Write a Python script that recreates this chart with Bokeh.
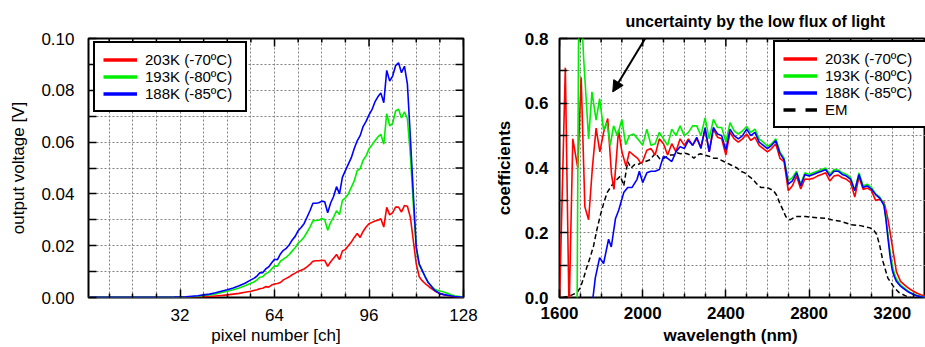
import math
from bokeh.plotting import figure
from bokeh.layouts import row
from bokeh.models import (Range1d, FixedTicker, Legend, LegendItem, Title,
                          Arrow, NormalHead, PrintfTickFormatter)
from bokeh.core.properties import value
from bokeh.embed import file_html
from bokeh.resources import INLINE

# ---------------- left panel data ----------------
channels = [1, 8, 16, 24, 30, 34, 36, 38, 40, 42, 44, 46, 48, 50, 52, 54, 56] + list(range(57, 129))

volt_203K = [0.0001, 0.0001, 0.0001, 0.0001, 0.0001, 0.0001, 0.0002, 0.0002, 0.0003, 0.0004,
             0.0006, 0.0008, 0.001, 0.0013, 0.0016, 0.002, 0.0024,
             0.0027, 0.003, 0.0034, 0.0036, 0.0042, 0.004, 0.0048, 0.0052, 0.0054, 0.0058,
             0.0068, 0.0074, 0.008, 0.0088, 0.0094, 0.0101, 0.0105, 0.011, 0.0118, 0.0128,
             0.014, 0.0142, 0.0142, 0.0144, 0.0143, 0.012, 0.0138, 0.0152, 0.0166, 0.0146,
             0.018, 0.0185, 0.02, 0.0214, 0.0232, 0.0247, 0.0232, 0.0255, 0.0272, 0.0285,
             0.029, 0.0295, 0.0298, 0.0304, 0.0272, 0.0348, 0.0319, 0.0328, 0.0349, 0.0349,
             0.033, 0.0355, 0.0352, 0.031, 0.022, 0.013, 0.008, 0.0065, 0.0054, 0.0045,
             0.0035, 0.0028, 0.002, 0.0015, 0.0012, 0.0009, 0.0007, 0.0005, 0.0003, 0.0002,
             0.0001, 0.0]

volt_193K = [0.0001, 0.0001, 0.0001, 0.0001, 0.0001, 0.0002, 0.0003, 0.0005, 0.0008, 0.001,
             0.0014, 0.0019, 0.0024, 0.003, 0.0037, 0.0045, 0.0055,
             0.006, 0.0067, 0.0078, 0.008, 0.0092, 0.0097, 0.011, 0.0122, 0.0121, 0.014,
             0.0148, 0.0156, 0.0166, 0.018, 0.0192, 0.021, 0.022, 0.0233, 0.0252, 0.0272,
             0.0296, 0.0297, 0.0298, 0.0305, 0.030, 0.026, 0.029, 0.031, 0.0335, 0.032,
             0.0375, 0.0385, 0.040, 0.0425, 0.045, 0.049, 0.0497, 0.053, 0.0547, 0.0574,
             0.0589, 0.0605, 0.062, 0.063, 0.0592, 0.071, 0.0663, 0.0672, 0.072, 0.0727,
             0.0693, 0.0717, 0.069, 0.055, 0.036, 0.019, 0.0125, 0.0105, 0.0082, 0.006,
             0.0045, 0.0034, 0.0028, 0.0025, 0.0022, 0.0018, 0.0014, 0.001, 0.0007, 0.0005,
             0.0003, 0.0002]

volt_188K = [0.0001, 0.0001, 0.0001, 0.0001, 0.0002, 0.0003, 0.0005, 0.0007, 0.001, 0.0013,
             0.0018, 0.0024, 0.003, 0.0037, 0.0045, 0.0055, 0.0068,
             0.0074, 0.0082, 0.0095, 0.0096, 0.011, 0.0118, 0.0133, 0.0148, 0.0146, 0.0168,
             0.0182, 0.019, 0.0204, 0.0222, 0.0236, 0.0258, 0.027, 0.0285, 0.031, 0.0335,
             0.0364, 0.0364, 0.0366, 0.0372, 0.037, 0.0327, 0.0365, 0.039, 0.0428, 0.040,
             0.0465, 0.049, 0.0515, 0.054, 0.0575, 0.0605, 0.0625, 0.066, 0.068, 0.0705,
             0.0725, 0.0755, 0.0775, 0.079, 0.0752, 0.0877, 0.0836, 0.0855, 0.0895, 0.0906,
             0.0868, 0.0893, 0.0824, 0.062, 0.040, 0.0195, 0.013, 0.0105, 0.008, 0.0058,
             0.0045, 0.003, 0.0022, 0.0015, 0.0012, 0.001, 0.0008, 0.0006, 0.0004, 0.0003,
             0.0002, 0.0001]

left_x_ticks = [32, 64, 96, 128]
left_x_minor = [8, 16, 24, 40, 48, 56, 72, 80, 88, 104, 112, 120]
left_x_grid = [8, 16, 24, 32, 40, 48, 56, 64, 72, 80, 88, 96, 104, 112, 120]
left_y_ticks = [0.0, 0.02, 0.04, 0.06, 0.08, 0.10]
left_y_minor = [0.01, 0.03, 0.05, 0.07, 0.09]
left_y_grid = [0.01, 0.02, 0.03, 0.04, 0.05, 0.06, 0.07, 0.08, 0.09]

# ---------------- right panel data ----------------
wl_mid = [2000, 2020, 2040, 2060, 2080, 2100, 2120, 2140, 2160, 2180,
          2200, 2220, 2240, 2260, 2280, 2300, 2320, 2340, 2360, 2380,
          2400, 2420, 2440, 2460, 2480, 2500, 2520, 2540, 2560, 2580,
          2600, 2620, 2640, 2660, 2680, 2700, 2720, 2740, 2760, 2780,
          2800, 2820, 2840, 2860, 2880, 2900, 2920, 2940, 2960, 2980,
          3000, 3020, 3040, 3060, 3080, 3100, 3120, 3140, 3160, 3170,
          3180, 3190, 3200, 3210, 3220, 3240, 3260, 3280, 3300, 3320,
          3340, 3360]

coef_193K_mid = [0.47, 0.52, 0.47, 0.475, 0.51, 0.49, 0.47, 0.52, 0.50, 0.53,
                 0.50, 0.51, 0.53, 0.53, 0.50, 0.555, 0.49, 0.55, 0.525, 0.525,
                 0.48, 0.54, 0.515, 0.505, 0.515, 0.528, 0.51, 0.52, 0.49, 0.48,
                 0.467, 0.475, 0.49, 0.45, 0.43, 0.36, 0.37, 0.39, 0.35, 0.385,
                 0.38, 0.385, 0.39, 0.395, 0.40, 0.38, 0.395, 0.394, 0.385, 0.38,
                 0.37, 0.33, 0.385, 0.345, 0.35, 0.34, 0.32, 0.31, 0.29, 0.245,
                 0.19, 0.14, 0.10, 0.075, 0.057, 0.038, 0.028, 0.018, 0.012, 0.006,
                 0.003, 0.001]

coef_188K_mid = [0.355, 0.385, 0.39, 0.39, 0.395, 0.436, 0.43, 0.42, 0.45, 0.466,
                 0.46, 0.485, 0.47, 0.495, 0.46, 0.525, 0.45, 0.525, 0.505, 0.50,
                 0.455, 0.52, 0.50, 0.49, 0.50, 0.52, 0.50, 0.51, 0.48, 0.47,
                 0.46, 0.47, 0.485, 0.445, 0.425, 0.35, 0.36, 0.385, 0.345, 0.38,
                 0.375, 0.38, 0.385, 0.39, 0.395, 0.375, 0.39, 0.39, 0.38, 0.375,
                 0.365, 0.33, 0.38, 0.34, 0.345, 0.335, 0.318, 0.307, 0.285, 0.24,
                 0.18, 0.125, 0.085, 0.065, 0.05, 0.035, 0.025, 0.016, 0.01, 0.005,
                 0.002, 0.0]

coef_203K_mid = [0.42, 0.455, 0.46, 0.44, 0.49, 0.475, 0.44, 0.475, 0.45, 0.49,
                 0.47, 0.49, 0.47, 0.49, 0.465, 0.52, 0.45, 0.52, 0.495, 0.49,
                 0.44, 0.51, 0.49, 0.48, 0.49, 0.505, 0.485, 0.495, 0.47, 0.46,
                 0.45, 0.46, 0.475, 0.43, 0.42, 0.33, 0.345, 0.375, 0.335, 0.366,
                 0.365, 0.368, 0.375, 0.38, 0.385, 0.36, 0.375, 0.378, 0.37, 0.365,
                 0.355, 0.31, 0.373, 0.334, 0.338, 0.33, 0.30, 0.303, 0.295, 0.27,
                 0.24, 0.20, 0.16, 0.12, 0.08, 0.05, 0.038, 0.028, 0.02, 0.013,
                 0.008, 0.004]

wl_203K_low = [1600, 1628, 1646, 1664, 1688, 1704, 1722, 1740, 1758, 1776, 1794, 1812,
               1832, 1850, 1862, 1884, 1900, 1920, 1936, 1956, 1976, 1990]
coef_203K_low = [-0.02, 0.71, -0.05, 0.49, 0.40, 0.68, 0.28, 0.24, 0.40, 0.523, 0.45, 0.51,
                 0.553, 0.38, 0.334, 0.518, 0.45, 0.405, 0.451, 0.44, 0.43, 0.415]

wl_193K_low = [1600, 1684, 1692, 1708, 1716, 1740, 1756, 1776, 1793, 1812, 1828, 1844,
               1860, 1878, 1900, 1918, 1936, 1956, 1976]
coef_193K_low = [-0.1, -0.1, 0.85, 0.85, 0.74, 0.49, 0.635, 0.548, 0.614, 0.518, 0.54, 0.47,
                 0.53, 0.50, 0.55, 0.472, 0.50, 0.505, 0.49]

wl_188K_low = [1600, 1750, 1761, 1772, 1793, 1812, 1836, 1849, 1869, 1885, 1909, 1928,
               1949, 1973, 1984]
coef_188K_low = [-0.1, -0.1, 0.0, 0.06, 0.123, 0.105, 0.18, 0.156, 0.243, 0.27, 0.324, 0.34,
                 0.34, 0.365, 0.39]

wl_em = [1615, 1640, 1660, 1684, 1700, 1716, 1732, 1748, 1764, 1780, 1796, 1812, 1829, 1845,
         1861, 1877, 1893, 1909, 1928, 1944, 1960, 1975, 1990, 2013, 2037, 2061, 2085, 2101,
         2117, 2133, 2149, 2165, 2182, 2198, 2214, 2230, 2246, 2262, 2278, 2294, 2310, 2326,
         2342, 2358, 2374, 2390, 2406, 2422, 2438, 2454, 2470, 2491, 2510, 2530, 2550, 2568,
         2598, 2629, 2645, 2660, 2675, 2688, 2709, 2737, 2784, 2845, 2880, 2908, 2955, 3001,
         3047, 3093, 3109, 3125, 3140, 3156, 3179, 3210, 3233, 3264, 3290]
coef_em = [0.0, 0.003, 0.008, 0.015, 0.03, 0.06, 0.095, 0.125, 0.16, 0.21, 0.253, 0.29, 0.324,
           0.34, 0.355, 0.365, 0.375, 0.345, 0.42, 0.40, 0.41, 0.41, 0.415, 0.42, 0.426, 0.446,
           0.426, 0.43, 0.435, 0.44, 0.44, 0.447, 0.444, 0.446, 0.444, 0.44, 0.43, 0.44, 0.444,
           0.44, 0.438, 0.435, 0.43, 0.43, 0.425, 0.42, 0.415, 0.41, 0.405, 0.40, 0.39, 0.385,
           0.375, 0.365, 0.35, 0.34, 0.34, 0.33, 0.315, 0.29, 0.27, 0.25, 0.24, 0.25, 0.25,
           0.246, 0.245, 0.24, 0.235, 0.225, 0.222, 0.215, 0.21, 0.195, 0.16, 0.11, 0.06, 0.03,
           0.015, 0.005, 0.0]

right_x_ticks = [1600, 2000, 2400, 2800, 3200]
right_x_minor = [1700, 1800, 1900, 2100, 2200, 2300, 2500, 2600, 2700, 2900, 3000, 3100, 3300]
right_x_grid = [1700, 1800, 1900, 2000, 2100, 2200, 2300, 2400, 2500, 2600, 2700, 2800,
                2900, 3000, 3100, 3200, 3300]
right_y_ticks = [0.0, 0.2, 0.4, 0.6, 0.8]
right_y_minor = [0.1, 0.3, 0.5, 0.7]
right_y_grid = [0.1, 0.2, 0.3, 0.4, 0.5, 0.6, 0.7]

labels = ["203K (-70ºC)", "193K (-80ºC)", "188K (-85ºC)"]
colors = ["#ff0000", "#00ee00", "#0000ff"]

FONT = "Liberation Sans"


def style_axis(ax, ticks, minor, fmt, style, tick_len, minor_len):
    ax.ticker = FixedTicker(ticks=ticks, minor_ticks=minor)
    if fmt:
        ax.formatter = PrintfTickFormatter(format=fmt)
    ax.axis_line_color = None
    ax.major_tick_in = tick_len
    ax.major_tick_out = 0
    ax.minor_tick_in = minor_len
    ax.minor_tick_out = 0
    ax.major_tick_line_color = "black"
    ax.minor_tick_line_color = "black"
    ax.major_tick_line_width = 1.5
    ax.minor_tick_line_width = 1.5
    ax.major_label_text_font = FONT
    ax.major_label_text_font_style = style
    ax.major_label_text_color = "black"
    ax.major_label_text_font_size = "17px"
    ax.axis_label_text_font = FONT
    ax.axis_label_text_font_style = style
    ax.axis_label_text_color = "black"
    ax.axis_label_text_font_size = "17px"


def base_style(p, xg, yg):
    p.outline_line_color = "black"
    p.outline_line_width = 2
    p.outline_line_alpha = 1.0
    p.background_fill_color = "white"
    p.border_fill_color = "white"
    p.xgrid.ticker = FixedTicker(ticks=xg)
    p.ygrid.ticker = FixedTicker(ticks=yg)
    for g in (p.xgrid, p.ygrid):
        g.grid_line_color = "#808080"
        g.grid_line_dash = "2 2"
        g.grid_line_width = 1


def mirror_ticks_top(p, ticks, y_edge, size):
    # dash markers centred on the frame edge; the outer half is clipped by the frame
    p.scatter(ticks, [y_edge] * len(ticks), marker="dash", size=size, angle=math.pi / 2,
              line_color="black", line_width=1.5)


def mirror_ticks_right(p, ticks, x_edge, size):
    p.scatter([x_edge] * len(ticks), ticks, marker="dash", size=size,
              line_color="black", line_width=1.5)


def make_legend(p, items, x, y):
    leg = Legend(items=items, location=(x, y))
    leg.border_line_color = "black"
    leg.border_line_width = 2
    leg.border_line_alpha = 1.0
    leg.background_fill_color = "white"
    leg.background_fill_alpha = 1.0
    leg.label_text_font = FONT
    leg.label_text_font_size = "15px"
    leg.label_text_color = "black"
    leg.glyph_width = 34
    leg.glyph_height = 17
    leg.label_height = 17
    leg.label_width = 92
    leg.label_standoff = 8
    leg.spacing = 0
    leg.padding = 8
    leg.margin = 0
    p.add_layout(leg)


# ---------------- left figure ----------------
x1_lo, x1_hi, y1_lo, y1_hi = 1, 128, 0.0, 0.1
p1 = figure(width=480, height=347, x_range=Range1d(x1_lo, x1_hi), y_range=Range1d(y1_lo, y1_hi),
            output_backend="svg", toolbar_location=None,
            min_border_left=88, min_border_right=17, min_border_top=35, min_border_bottom=49)
base_style(p1, left_x_grid, left_y_grid)
style_axis(p1.xaxis[0], left_x_ticks, left_x_minor, None, "normal", 8, 4)
style_axis(p1.yaxis[0], left_y_ticks, left_y_minor, "%.2f", "normal", 8, 8)
p1.xaxis[0].axis_label = "pixel number [ch]"
p1.yaxis[0].axis_label = "output voltage [V]"
p1.xaxis[0].major_label_standoff = 11
p1.xaxis[0].axis_label_standoff = 2
p1.yaxis[0].major_label_standoff = 14
p1.yaxis[0].axis_label_standoff = 10
mirror_ticks_top(p1, left_x_ticks, y1_hi, 16)
mirror_ticks_top(p1, left_x_minor, y1_hi, 8)
mirror_ticks_right(p1, left_y_ticks + left_y_minor, x1_hi, 16)

for col, vals in zip(colors, [volt_203K, volt_193K, volt_188K]):
    p1.line(channels, vals, line_color=col, line_width=1.6)

items1 = []
for lab, col in zip(labels, colors):
    r = p1.line([-20, -10], [-1, -1], line_color=col, line_width=3.5)
    items1.append(LegendItem(label=value(lab), renderers=[r]))
make_legend(p1, items1, 5, 185)

# ---------------- right figure ----------------
x2_lo, x2_hi, y2_lo, y2_hi = 1600, 3360, 0.0, 0.8
p2 = figure(width=445, height=347, x_range=Range1d(x2_lo, x2_hi), y_range=Range1d(y2_lo, y2_hi),
            output_backend="svg", toolbar_location=None,
            min_border_left=79, min_border_right=0, min_border_top=38, min_border_bottom=48)
base_style(p2, right_x_grid, right_y_grid)
style_axis(p2.xaxis[0], right_x_ticks, right_x_minor, None, "bold", 8, 4)
style_axis(p2.yaxis[0], right_y_ticks, right_y_minor, "%.1f", "bold", 8, 8)
p2.yaxis[0].axis_label = "coefficients"
p2.xaxis[0].major_label_standoff = 9
p2.yaxis[0].major_label_standoff = 11
p2.yaxis[0].axis_label_standoff = 8
mirror_ticks_top(p2, right_x_ticks, y2_hi, 16)
mirror_ticks_top(p2, right_x_minor, y2_hi, 8)

# x-axis caption of the right panel sits left of the frame centre in the reference
p2.add_layout(Title(text="wavelength (nm)", align="left", offset=104, standoff=4,
                    text_font=FONT, text_font_style="bold", text_font_size="17px",
                    text_color="black"), "below")

series_r = [(wl_203K_low + wl_mid, coef_203K_low + coef_203K_mid),
            (wl_193K_low + wl_mid, coef_193K_low + coef_193K_mid),
            (wl_188K_low + wl_mid, coef_188K_low + coef_188K_mid)]
p2.line(wl_em, coef_em, line_color="black", line_width=1.5, line_dash="5 3")
for (xs, ys), col in zip(series_r, colors):
    p2.line(xs, ys, line_color=col, line_width=1.6)

items2 = []
for lab, col in zip(labels, colors):
    r = p2.line([1000, 1100], [-1, -1], line_color=col, line_width=3.5)
    items2.append(LegendItem(label=value(lab), renderers=[r]))
r_em = p2.line([1000, 1100], [-1, -1], line_color="black", line_width=3.5, line_dash="12 10")
items2.append(LegendItem(label=value("EM"), renderers=[r_em]))
make_legend(p2, items2, 214, 169)

p2.add_layout(Title(text="uncertainty by the low flux of light", align="left",
                    text_font=FONT, text_font_style="bold", text_font_size="16px",
                    text_color="black", offset=66, standoff=17), "above")

arrow_start = (2029, 0.818)
arrow_end = (1856, 0.635)
p2.add_layout(Arrow(end=NormalHead(size=11, fill_color="black", line_color="black"),
                    x_start=arrow_start[0], y_start=arrow_start[1],
                    x_end=arrow_end[0], y_end=arrow_end[1],
                    line_color="black", line_width=2))

layout = row(p1, p2)
open("out.html", "w").write(file_html(layout, INLINE))
